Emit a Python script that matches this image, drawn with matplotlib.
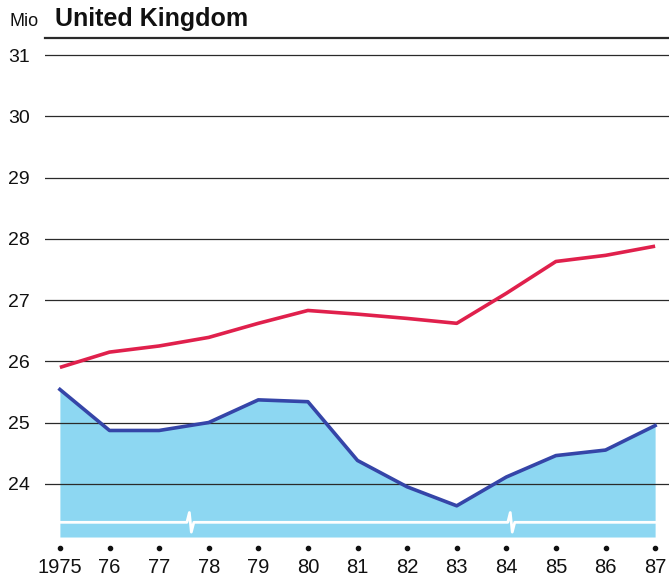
import matplotlib.pyplot as plt
import matplotlib.transforms as mtransforms
import numpy as np

plt.rcParams['font.family'] = ['Liberation Sans', 'DejaVu Sans']

# data (Mio)
years = [1975, 1976, 1977, 1978, 1979, 1980, 1981, 1982, 1983, 1984, 1985, 1986, 1987]
year_labels = ["1975", "76", "77", "78", "79", "80", "81", "82", "83", "84", "85", "86", "87"]
red_vals = [25.90, 26.15, 26.25, 26.39, 26.62, 26.83, 26.77, 26.70, 26.62, 27.11, 27.63, 27.73, 27.88]
blue_vals = [25.54, 24.87, 24.87, 25.00, 25.37, 25.34, 24.38, 23.95, 23.64, 24.11, 24.46, 24.55, 24.95]
y_ticks = [24, 25, 26, 27, 28, 29, 30, 31]
breaks = [1977.63, 1984.1]

fig = plt.figure(figsize=(6.69, 5.81), dpi=100)
ax = fig.add_axes([0.0673, 0.0757, 0.9327, 0.8589])
ymin, ymax = 23.13, 31.28
ax.set_xlim(1974.7, 1987.28)
ax.set_ylim(ymin, ymax)

# fill under blue line
ax.fill_between(years, blue_vals, ymin, color='#8dd7f2', lw=0, zorder=1)

# grid lines
for v in y_ticks:
    ax.axhline(v, color='#2a2a2a', lw=0.9, zorder=2)
ax.axhline(ymax, color='#2a2a2a', lw=1.6, zorder=2, clip_on=False)

ax.plot(years, red_vals, color='#e0204c', lw=2.6, zorder=4, solid_capstyle='butt')
ax.plot(years, blue_vals, color='#3545a8', lw=2.6, zorder=4, solid_joinstyle='round')

# white axis-break line
yb = 23.37
xs = [years[0]]
ys = [yb]
for b in breaks:
    xs += [b - 0.07, b - 0.02, b + 0.02, b + 0.07]
    ys += [yb, yb + 0.16, yb - 0.16, yb]
xs.append(years[-1])
ys.append(yb)
ax.plot(xs, ys, color='white', lw=2.0, zorder=3)

for s in ax.spines.values():
    s.set_visible(False)

ax.set_yticks(y_ticks)
ax.set_yticklabels([str(v) for v in y_ticks], fontsize=14)
ax.set_xticks(years)
ax.set_xticklabels(year_labels, fontsize=14.5)
ax.tick_params(axis='y', length=0, pad=11, colors='#111111')
ax.tick_params(axis='x', length=0, pad=15, colors='#111111')

# dots above year labels
trans = mtransforms.blended_transform_factory(ax.transData, ax.transAxes)
ax.plot(years, [-0.022] * len(years), 'o', color='#111111', ms=3,
        transform=trans, clip_on=False)

fig.text(0.014, 0.955, "Mio", fontsize=13, color='#111111', va='baseline')
fig.text(0.082, 0.955, "United Kingdom", fontsize=18, fontweight='bold',
         color='#111111', va='baseline')

fig.savefig("out.png", dpi=100, facecolor='white')
